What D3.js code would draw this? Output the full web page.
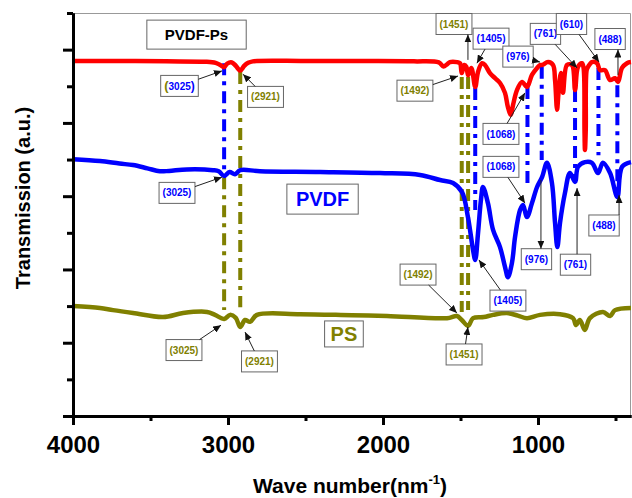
<!DOCTYPE html>
<html>
<head>
<meta charset="utf-8">
<script src="https://cdn.jsdelivr.net/npm/d3@7/dist/d3.min.js"></script>
<style>
  body { margin: 0; background: #fff; }
  text { font-family: "Liberation Sans", Arial, sans-serif; font-weight: bold; }
</style>
</head>
<body>
<script>
// FTIR spectra, [wave number, transmission (a.u.)]
var pvdfPs = [[4000,96.9],[3700,96.9],[3400,96.8],[3150,96.7],[3080,96.4],[3050,95.8],[3025,95.2],[3005,96.2],[2975,96.5],[2950,95.6],[2921,94.3],[2895,95.6],[2870,96.4],[2840,96.8],[2500,96.9],[2100,96.9],[1800,96.8],[1640,96.5],[1610,95.4],[1587,96.0],[1568,96.6],[1523,96.6],[1503,96.3],[1492,93.6],[1475,95.8],[1462,95.3],[1451,93.0],[1430,95.0],[1405,89.8],[1387,93.9],[1361,96.3],[1342,95.8],[1310,93.6],[1277,92.2],[1245,90.9],[1213,88.2],[1194,84.3],[1175,82.2],[1161,84.9],[1135,89.0],[1103,91.2],[1071,89.8],[1039,93.1],[1006,95.0],[987,95.8],[974,95.8],[935,96.6],[903,95.8],[890,91.7],[877,83.6],[868,88.0],[852,93.6],[839,88.2],[813,95.8],[781,95.8],[761,89.0],[742,95.3],[716,96.3],[706,95.0],[700,78.0],[697,72.6],[692,78.0],[686,94.4],[677,95.3],[652,96.6],[619,96.3],[600,94.4],[568,94.4],[535,91.7],[503,92.2],[484,91.2],[458,95.0],[426,96.3],[400,96.6]];

var pvdf = [[4000,70.1],[3826,69.6],[3700,68.9],[3613,68.5],[3520,67.6],[3440,66.8],[3380,66.9],[3265,67.3],[3097,67.1],[3060,66.8],[3025,65.5],[2990,66.6],[2955,66.0],[2921,67.1],[2794,66.8],[2406,66.6],[2019,66.3],[1761,65.8],[1632,64.4],[1548,63.6],[1490,61.1],[1452,54.3],[1419,45.3],[1405,42.6],[1387,49.9],[1368,59.0],[1355,62.5],[1323,58.1],[1290,50.8],[1245,46.1],[1213,40.7],[1194,37.9],[1168,41.8],[1148,48.9],[1116,56.2],[1097,57.6],[1071,54.3],[1039,58.1],[1006,62.5],[974,65.2],[942,69.1],[910,63.6],[890,52.7],[875,46.1],[858,52.7],[826,60.9],[794,66.3],[761,63.9],[742,68.0],[697,69.3],[652,69.1],[613,66.3],[581,69.1],[535,66.3],[488,59.8],[458,68.0],[400,69.3]];

var ps = [[4000,30.0],[3826,29.5],[3742,28.9],[3613,28.1],[3419,27.0],[3290,28.1],[3135,28.4],[3084,27.6],[3025,26.5],[2987,27.6],[2950,26.8],[2921,24.3],[2890,26.2],[2858,25.7],[2813,27.6],[2535,27.8],[2200,27.5],[1974,27.3],[1587,26.7],[1523,27.3],[1492,26.2],[1451,24.6],[1419,26.7],[1350,27.0],[1290,27.6],[1200,28.1],[1130,27.4],[1071,26.7],[987,27.6],[858,27.8],[774,26.7],[755,24.8],[730,26.2],[698,23.5],[665,26.7],[581,28.4],[535,27.3],[503,28.9],[400,29.5]];

var xMajorTicks = [4000, 3000, 2000, 1000];
var xMinorTicks = [3500, 2500, 1500, 500];
var yMajorTicks = [0, 20, 40, 60, 80, 100];
var yMinorTicks = [10, 30, 50, 70, 90, 110];

// dash-dot guide lines between the spectra: wave number, from, to, colour key
var bandLines = [
    {wn: 3025, from: 96.3, to: 66.3, c: "blue"},
    {wn: 3025, from: 65.2, to: 28.9, c: "olive"},
    {wn: 2921, from: 93.9, to: 29.7, c: "olive"},
    {wn: 1492, from: 92.5, to: 28.4, c: "olive"},
    {wn: 1451, from: 92.5, to: 28.9, c: "olive"},
    {wn: 1405, from: 89.5, to: 56.2, c: "blue"},
    {wn: 1068, from: 89.8, to: 63.6, c: "blue"},
    {wn: 976, from: 95.3, to: 69.9, c: "blue"},
    {wn: 761, from: 89.0, to: 64.4, c: "blue"},
    {wn: 610, from: 95.0, to: 71.2, c: "blue"},
    {wn: 488, from: 90.3, to: 61.7, c: "blue"}
];

// peak labels: box centre and arrow tip in data units
var bandLabels = [
    {t: "3025", c: "mixed", box: [3313, 90.1], tip: [3039, 94.2], head: "tip"},
    {t: "2921", c: "olive", box: [2758, 87.1], tip: [2903, 93.3], head: "tip"},
    {t: "3025", c: "blue", box: [3329, 60.9], tip: [3039, 65.2], head: "tip"},
    {t: "3025", c: "olive", box: [3284, 18.0], tip: [3045, 24.8], head: "tip"},
    {t: "2921", c: "olive", box: [2797, 14.9], tip: [2890, 22.9], head: "tip"},
    {t: "1492", c: "olive", box: [1794, 88.8], tip: [1516, 92.8], head: "tip"},
    {t: "1451", c: "olive", box: [1542, 107.0], tip: [1452, 97.2], head: "box", vert: true},
    {t: "1405", c: "blue", box: [1303, 103.0], tip: [1394, 96.3], head: "tip"},
    {t: "976", c: "blue", box: [1129, 98.1], tip: [987, 96.6], head: "tip"},
    {t: "1068", c: "blue", box: [1239, 77.0], tip: [1084, 88.2], head: "tip"},
    {t: "761", c: "blue", box: [952, 104.3], tip: [748, 95.0], head: "tip"},
    {t: "610", c: "blue", box: [784, 107.0], tip: [606, 96.6], head: "tip"},
    {t: "488", c: "blue", box: [535, 102.9], tip: [484, 93.1], head: "box", vert: true},
    {t: "1068", c: "blue", box: [1239, 68.0], tip: [1084, 58.1], head: "tip"},
    {t: "976", c: "blue", box: [1010, 42.8], tip: [981, 64.4], head: "box", vert: true},
    {t: "761", c: "blue", box: [758, 41.3], tip: [748, 62.2], head: "tip", vert: true},
    {t: "488", c: "blue", box: [574, 52.0], tip: [477, 60.3], head: "tip", vert: true},
    {t: "1405", c: "blue", box: [1194, 31.5], tip: [1381, 42.6], head: "tip"},
    {t: "1492", c: "olive", box: [1774, 38.6], tip: [1523, 28.1], head: "tip"},
    {t: "1451", c: "olive", box: [1477, 16.8], tip: [1452, 24.3], head: "tip"}
];

var seriesNames = [
    {t: "PVDF-Ps", c: "black", at: [3203, 104.1]},
    {t: "PVDF", c: "blue", at: [2390, 59.2]},
    {t: "PS", c: "olive", at: [2252, 22.4]}
];

var colors = {red: "#ff0000", blue: "#0000ff", olive: "#808000", black: "#000000"};

var width = 632, height = 498;

var svg = d3.select("body").append("svg")
    .attr("width", width)
    .attr("height", height);

var x = d3.scaleLinear().domain([4000, 400]).range([73, 631]);
var y = d3.scaleLinear().domain([0, 110]).range([416, 13]);

// arrow head
svg.append("defs").append("marker")
    .attr("id", "head")
    .attr("markerUnits", "userSpaceOnUse")
    .attr("markerWidth", 8).attr("markerHeight", 7)
    .attr("refX", 8).attr("refY", 3.5)
    .attr("orient", "auto")
    .append("path").attr("d", "M0,0L8,3.5L0,7Z").attr("fill", "#111");

// thin frame on top and right
svg.append("line").attr("x1", 73).attr("x2", 630.5).attr("y1", 13.5).attr("y2", 13.5)
    .attr("stroke", "#999").attr("stroke-width", 1);
svg.append("line").attr("x1", 630.5).attr("x2", 630.5).attr("y1", 13.5).attr("y2", 416)
    .attr("stroke", "#999").attr("stroke-width", 1);

// guide lines
svg.append("g").selectAll("line").data(bandLines).enter().append("line")
    .attr("x1", function (d) { return x(d.wn); })
    .attr("x2", function (d) { return x(d.wn); })
    .attr("y1", function (d) { return y(d.from); })
    .attr("y2", function (d) { return y(d.to); })
    .attr("stroke", function (d) { return colors[d.c]; })
    .attr("stroke-width", 4)
    .attr("stroke-dasharray", "12,6,4,6");

// spectra
var line = d3.line()
    .x(function (d) { return x(d[0]); })
    .y(function (d) { return y(d[1]); })
    .curve(d3.curveCatmullRom.alpha(0.5));

[[ps, "olive"], [pvdf, "blue"], [pvdfPs, "red"]].forEach(function (s) {
    svg.append("path").datum(s[0])
        .attr("d", line)
        .attr("fill", "none")
        .attr("stroke", colors[s[1]])
        .attr("stroke-width", 4.5)
        .attr("stroke-linejoin", "round");
});

// axes
function styleAxis(g) {
    g.select(".domain").attr("stroke", "#000").attr("stroke-width", 3);
    g.selectAll(".tick line").attr("stroke", "#000").attr("stroke-width", 3);
}

svg.append("g").attr("transform", "translate(0,416)")
    .call(d3.axisBottom(x).tickValues(xMinorTicks).tickSize(5).tickSizeOuter(0).tickFormat(""))
    .call(styleAxis);
svg.append("g").attr("transform", "translate(0,416)")
    .call(d3.axisBottom(x).tickValues(xMajorTicks).tickSize(9).tickSizeOuter(0).tickPadding(11).tickFormat(d3.format("d")))
    .call(styleAxis)
    .call(function (g) {
        g.selectAll("text").attr("fill", "#000").style("font-size", "24px")
            .style("font-family", "'Liberation Sans', Arial, sans-serif").style("font-weight", "bold");
    });
svg.append("g").attr("transform", "translate(73,0)")
    .call(d3.axisLeft(y).tickValues(yMinorTicks).tickSize(6).tickSizeOuter(0).tickFormat(""))
    .call(styleAxis);
svg.append("g").attr("transform", "translate(73,0)")
    .call(d3.axisLeft(y).tickValues(yMajorTicks).tickSize(10).tickSizeOuter(0).tickFormat(""))
    .call(styleAxis);

// axis titles
svg.append("text")
    .attr("transform", "translate(30,198) rotate(-90)")
    .attr("text-anchor", "middle")
    .style("font-size", "20px")
    .text("Transmission (a.u.)");

var xt = svg.append("text")
    .attr("x", 350).attr("y", 493)
    .attr("text-anchor", "middle")
    .style("font-size", "21px");
xt.append("tspan").text("Wave number(nm");
xt.append("tspan").attr("dy", -9).style("font-size", "13px").text("-1");
xt.append("tspan").attr("dy", 9).text(")");

// series names in boxes
var namePad = {"PVDF-Ps": [18, 6], "PVDF": [9, 4], "PS": [6, 2]};
var nameSize = {"PVDF-Ps": 15, "PVDF": 20, "PS": 20};
seriesNames.forEach(function (d) {
    var g = svg.append("g");
    var cx = x(d.at[0]), cy = y(d.at[1]);
    var txt = g.append("text")
        .attr("x", cx).attr("y", cy)
        .attr("dy", "0.36em")
        .attr("text-anchor", "middle")
        .attr("fill", colors[d.c])
        .style("font-size", nameSize[d.t] + "px")
        .text(d.t);
    var w = txt.node().getComputedTextLength() + 2 * namePad[d.t][0];
    var h = nameSize[d.t] + 2 * namePad[d.t][1] + 2;
    g.insert("rect", "text")
        .attr("x", cx - w / 2).attr("y", cy - h / 2)
        .attr("width", w).attr("height", h)
        .attr("fill", "#fff").attr("stroke", "#666").attr("stroke-width", 1);
});

// peak labels with arrows
var labelLayer = svg.append("g");
bandLabels.forEach(function (d) {
    var g = labelLayer.append("g");
    var cx = x(d.box[0]), cy = y(d.box[1]);
    var tx = x(d.tip[0]), ty = y(d.tip[1]);
    var txt = g.append("text")
        .attr("x", cx).attr("y", cy)
        .attr("dy", "0.36em")
        .attr("text-anchor", "middle")
        .style("font-size", "10px");
    if (d.c === "mixed") {
        txt.append("tspan").attr("fill", colors.olive).style("font-size", "13px").text("(");
        txt.append("tspan").attr("fill", colors.blue).text(d.t);
        txt.append("tspan").attr("fill", colors.blue).style("font-size", "12px").text(")");
    } else {
        txt.attr("fill", colors[d.c]).text("(" + d.t + ")");
    }
    var w = txt.node().getComputedTextLength() + 7;
    var h = 21;
    g.insert("rect", "text")
        .attr("x", cx - w / 2).attr("y", cy - h / 2)
        .attr("width", w).attr("height", h)
        .attr("fill", "#fff").attr("stroke", "#666").attr("stroke-width", 1);

    // point where the arrow leaves the box
    var ex, ey;
    if (d.vert) {
        ex = tx;
        ey = ty < cy ? cy - h / 2 : cy + h / 2;
    } else {
        var dx = tx - cx, dy = ty - cy;
        var k = Math.min((w / 2) / Math.abs(dx || 1e-6), (h / 2) / Math.abs(dy || 1e-6));
        ex = cx + dx * k;
        ey = cy + dy * k;
    }
    var a = d.head === "tip" ? [ex, ey, tx, ty] : [tx, ty, ex, ey];
    g.append("line")
        .attr("x1", a[0]).attr("y1", a[1]).attr("x2", a[2]).attr("y2", a[3])
        .attr("stroke", "#222").attr("stroke-width", 1)
        .attr("marker-end", "url(#head)");
});
</script>
</body>
</html>
